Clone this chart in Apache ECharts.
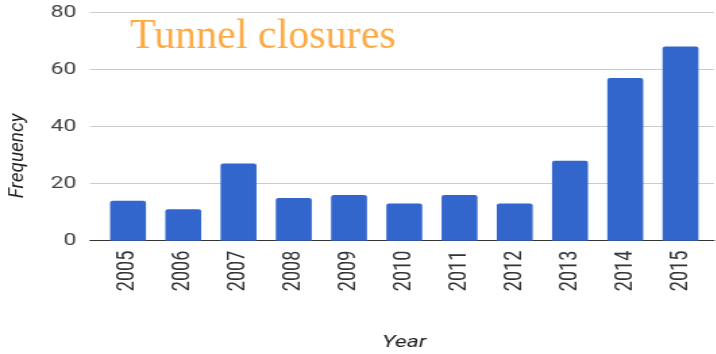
<!DOCTYPE html>
<html>
<head>
<meta charset="utf-8">
<script src="https://cdn.jsdelivr.net/npm/echarts@6/dist/echarts.min.js"></script>
<style>
  html, body { margin: 0; padding: 0; background: #fff; overflow: hidden; }
  #wrap { width: 716px; height: 354px; overflow: hidden; }
  /* the chart is laid out narrow and widened horizontally */
  #chart { height: 354px; transform-origin: 0 0; }
</style>
</head>
<body>
<div id="wrap"><div id="chart"></div></div>
<script>
// Yearly tunnel closure counts
const years = ['2005', '2006', '2007', '2008', '2009', '2010', '2011', '2012', '2013', '2014', '2015'];
const closures = [14, 11, 27, 15, 16, 13, 16, 13, 28, 57, 68];
const yTicks = [0, 20, 40, 60, 80];

const titleText = 'Tunnel closures';
const xTitle = 'Year';
const yTitle = 'Frequency';

const STRETCH = 1.35;          // horizontal widening of the whole drawing
const W = 716 / STRETCH;       // canvas width before widening
const sx = v => v / STRETCH;   // screen x -> canvas x

const el = document.getElementById('chart');
el.style.width = W + 'px';
el.style.transform = 'scaleX(' + STRETCH + ')';

const chart = echarts.init(el, null, { renderer: 'canvas' });

const yMin = yTicks[0];
const yMax = yTicks[yTicks.length - 1];
const yStep = yTicks[1] - yTicks[0];

const plotTop = 12.3;
const plotBottom = 354 - 240.7;

chart.setOption({
  animation: false,
  backgroundColor: '#ffffff',
  grid: [
    // frame: gridlines, value labels and baseline
    { left: sx(90), right: W - sx(714.5), top: plotTop, bottom: plotBottom,
      containLabel: false, outerBoundsMode: 'none' },
    // bars and year labels
    { left: sx(100.4), right: W - sx(708.6), top: plotTop, bottom: plotBottom,
      containLabel: false, outerBoundsMode: 'none' }
  ],
  xAxis: [
    {
      type: 'value', gridIndex: 0, min: 0, max: 1,
      axisLine: { show: true, onZero: true, lineStyle: { color: '#333', width: 1 } },
      axisTick: { show: false }, axisLabel: { show: false }, splitLine: { show: false }
    },
    {
      type: 'category', gridIndex: 1, data: years,
      axisLine: { show: false }, axisTick: { show: false },
      axisLabel: {
        rotate: 90, margin: 10, fontFamily: 'Roboto', fontSize: 18, color: '#333'
      },
      name: xTitle, nameLocation: 'middle', nameGap: 94,
      nameTextStyle: { fontFamily: 'Roboto', fontStyle: 'italic', fontSize: 17, color: '#222' }
    }
  ],
  yAxis: [
    {
      type: 'value', gridIndex: 0, min: yMin, max: yMax, interval: yStep,
      axisLine: { show: false }, axisTick: { show: false },
      axisLabel: { margin: 10, fontFamily: 'Roboto', fontSize: 17, color: '#444' },
      splitLine: { show: true, lineStyle: { color: '#cccccc', width: 1 } }
    },
    {
      type: 'value', gridIndex: 1, min: yMin, max: yMax, interval: yStep,
      show: false, splitLine: { show: false }
    }
  ],
  series: [
    {
      type: 'bar', xAxisIndex: 1, yAxisIndex: 1,
      data: closures, barWidth: '65%',
      itemStyle: { color: '#3366cc', borderRadius: [2, 2, 0, 0] },
      z: 1
    }
  ],
  graphic: [
    {
      type: 'text',
      x: sx(130), y: 36.5, scaleX: 1 / STRETCH,
      style: {
        text: titleText, fontFamily: 'Liberation Serif', fontSize: 42,
        fill: '#fdaa44', align: 'left', verticalAlign: 'middle'
      }
    },
    {
      type: 'text',
      x: sx(18.5), y: 156, rotation: Math.PI / 2, scaleY: 1 / STRETCH,
      style: {
        text: yTitle, fontFamily: 'Roboto', fontStyle: 'italic', fontSize: 19,
        fill: '#222', align: 'center', verticalAlign: 'middle'
      }
    }
  ]
});
</script>
</body>
</html>
